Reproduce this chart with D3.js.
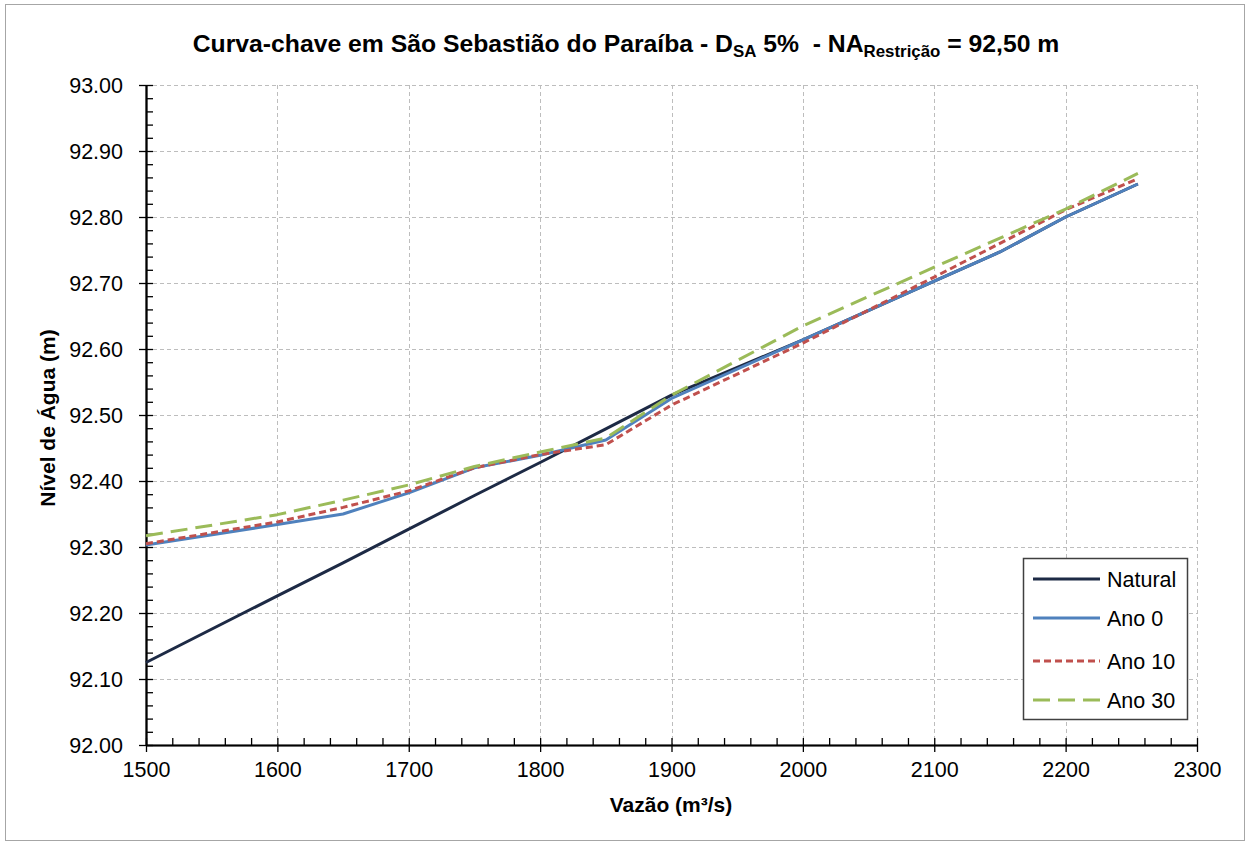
<!DOCTYPE html>
<html>
<head>
<meta charset="utf-8">
<script src="https://cdn.jsdelivr.net/npm/d3@7"></script>
<style>
  html, body { margin: 0; padding: 0; background: #fff; }
  svg { display: block; }
  text { font-family: "Liberation Sans", Arial, sans-serif; fill: #000; }
</style>
</head>
<body>
<svg id="chart" width="1250" height="845"></svg>
<script>
// Vazão (m³/s) at which each curve is sampled
const flows = [1500, 1600, 1650, 1700, 1750, 1800, 1850, 1900, 2000, 2100, 2150, 2200, 2255];

// Nível de água (m) for each condition
const natural = [92.125, 92.226, 92.276, 92.327, 92.378, 92.428, 92.479, 92.530, 92.614, 92.703, 92.747, 92.800, 92.850];
const ano0    = [92.303, 92.334, 92.350, 92.382, 92.420, 92.439, 92.462, 92.525, 92.614, 92.703, 92.747, 92.800, 92.850];
const ano10   = [92.305, 92.338, 92.360, 92.385, 92.420, 92.440, 92.455, 92.515, 92.609, 92.709, 92.760, 92.811, 92.858];
const ano30   = [92.317, 92.349, 92.371, 92.394, 92.422, 92.444, 92.465, 92.530, 92.635, 92.724, 92.768, 92.812, 92.866];

const seriesNames = ["Natural", "Ano 0", "Ano 10", "Ano 30"];
const seriesValues = [natural, ano0, ano10, ano30];

const xTicks = [1500, 1600, 1700, 1800, 1900, 2000, 2100, 2200, 2300];
const yTicks = [92.0, 92.1, 92.2, 92.3, 92.4, 92.5, 92.6, 92.7, 92.8, 92.9, 93.0];

const styles = [
  { color: "#1d2a45", dash: null,   width: 3 },
  { color: "#4f81bd", dash: null,   width: 3 },
  { color: "#c0504d", dash: "7,4",  width: 3 },
  { color: "#9bbb59", dash: "17,8", width: 3 }
];

const svg = d3.select("#chart");
const W = 1250, H = 845;
const plot = { left: 146, right: 1197, top: 85, bottom: 745 };

// chart frame
svg.append("rect")
  .attr("x", 5.5).attr("y", 4.5)
  .attr("width", W - 11).attr("height", H - 9)
  .attr("fill", "#fff").attr("stroke", "#a6a6a6").attr("stroke-width", 1);

const x = d3.scaleLinear().domain([1500, 2300]).range([plot.left, plot.right]);
const y = d3.scaleLinear().domain([92.0, 93.0]).range([plot.bottom, plot.top]);

// gridlines
const grid = svg.append("g").attr("stroke", "#bdbdbd").attr("stroke-width", 1).attr("stroke-dasharray", "4,3");
grid.selectAll("line.gx").data(xTicks.slice(1)).join("line")
  .attr("x1", d => Math.round(x(d)) + 0.5).attr("x2", d => Math.round(x(d)) + 0.5)
  .attr("y1", plot.top).attr("y2", plot.bottom);
grid.selectAll("line.gy").data(yTicks.slice(1)).join("line")
  .attr("y1", d => Math.round(y(d)) + 0.5).attr("y2", d => Math.round(y(d)) + 0.5)
  .attr("x1", plot.left).attr("x2", plot.right);

// minor ticks (inside)
const xMinor = d3.range(1520, 2300, 20).filter(v => v % 100 !== 0);
const yMinor = d3.range(0, 50).map(i => +(92 + i * 0.02).toFixed(2)).filter((v, i) => i % 5 !== 0);

const axisStyle = g => {
  g.selectAll("line").attr("stroke", "#000").attr("stroke-width", 1.3);
  g.select(".domain").attr("stroke", "#000").attr("stroke-width", 1.6);
  g.selectAll("text")
    .style("font-family", "'Liberation Sans', Arial, sans-serif")
    .style("font-size", "21.5px").attr("fill", "#000");
};

// x axis
svg.append("g").attr("transform", `translate(0,${plot.bottom})`)
  .call(d3.axisBottom(x).tickValues(xMinor).tickSize(-7).tickSizeOuter(0).tickFormat(""))
  .call(axisStyle);
svg.append("g").attr("transform", `translate(0,${plot.bottom})`)
  .call(d3.axisBottom(x).tickValues(xTicks).tickSize(-7).tickSizeOuter(0).tickFormat(""))
  .call(axisStyle);
svg.append("g").attr("transform", `translate(0,${plot.bottom})`)
  .call(d3.axisBottom(x).tickValues(xTicks).tickSize(7).tickSizeOuter(0).tickPadding(10).tickFormat(d3.format("d")))
  .call(axisStyle)
  .call(g => g.selectAll("text").attr("dy", "0.71em"));

// y axis
svg.append("g").attr("transform", `translate(${plot.left},0)`)
  .call(d3.axisLeft(y).tickValues(yMinor).tickSize(-7).tickSizeOuter(0).tickFormat(""))
  .call(axisStyle);
svg.append("g").attr("transform", `translate(${plot.left},0)`)
  .call(d3.axisLeft(y).tickValues(yTicks).tickSize(-7).tickSizeOuter(0).tickFormat(""))
  .call(axisStyle);
svg.append("g").attr("transform", `translate(${plot.left},0)`)
  .call(d3.axisLeft(y).tickValues(yTicks).tickSize(7).tickSizeOuter(0).tickPadding(16).tickFormat(d3.format(".2f")))
  .call(axisStyle)
  .call(g => g.selectAll("text").attr("dy", "0.33em"));

// curves
const line = d3.line().x(d => x(d[0])).y(d => y(d[1]));
seriesValues.forEach((vals, i) => {
  const pts = flows.map((f, j) => [f, vals[j]]);
  svg.append("path")
    .datum(pts)
    .attr("d", line)
    .attr("fill", "none")
    .attr("stroke", styles[i].color)
    .attr("stroke-width", styles[i].width)
    .attr("stroke-dasharray", styles[i].dash)
    .attr("stroke-linejoin", "round");
});

// legend
const lg = svg.append("g");
lg.append("rect").attr("x", 1023.5).attr("y", 558.5).attr("width", 164).attr("height", 161)
  .attr("fill", "#fff").attr("stroke", "#404040").attr("stroke-width", 1.5);
const rows = [579, 618, 661, 700];
seriesNames.forEach((name, i) => {
  lg.append("line").attr("x1", 1033).attr("x2", 1100).attr("y1", rows[i]).attr("y2", rows[i])
    .attr("stroke", styles[i].color).attr("stroke-width", styles[i].width)
    .attr("stroke-dasharray", styles[i].dash);
  lg.append("text").attr("x", 1107).attr("y", rows[i]).attr("dy", "0.36em")
    .style("font-size", "21.5px").text(name);
});

// axis titles
svg.append("text")
  .attr("transform", "translate(55,418) rotate(-90)")
  .attr("text-anchor", "middle")
  .style("font-size", "21px").style("font-weight", "bold")
  .text("Nível de Água (m)");
svg.append("text")
  .attr("x", 671).attr("y", 812)
  .attr("text-anchor", "middle")
  .style("font-size", "21px").style("font-weight", "bold")
  .text("Vazão (m³/s)");

// chart title with subscripts
const title = svg.append("text")
  .attr("x", 626).attr("y", 52)
  .attr("text-anchor", "middle")
  .attr("xml:space", "preserve")
  .style("white-space", "pre")
  .style("font-family", "'Liberation Sans', Arial, sans-serif")
  .style("font-weight", "bold")
  .style("font-size", "22px");
title.append("tspan").text("Curva-chave em São Sebastião do Paraíba - D");
title.append("tspan").attr("dy", 5).style("font-size", "15px").text("SA");
title.append("tspan").attr("dy", -5).text(" 5%  - NA");
title.append("tspan").attr("dy", 5).style("font-size", "15px").text("Restrição");
title.append("tspan").attr("dy", -5).text(" = 92,50 m");

// scale the title so it spans its full heading width
const tw = title.node().getComputedTextLength();
const target = 867;
const k = target / tw;
title.style("font-size", (22 * k) + "px");
title.selectAll("tspan").filter((d, i) => i === 1 || i === 3).style("font-size", (15 * k) + "px");
</script>
</body>
</html>
